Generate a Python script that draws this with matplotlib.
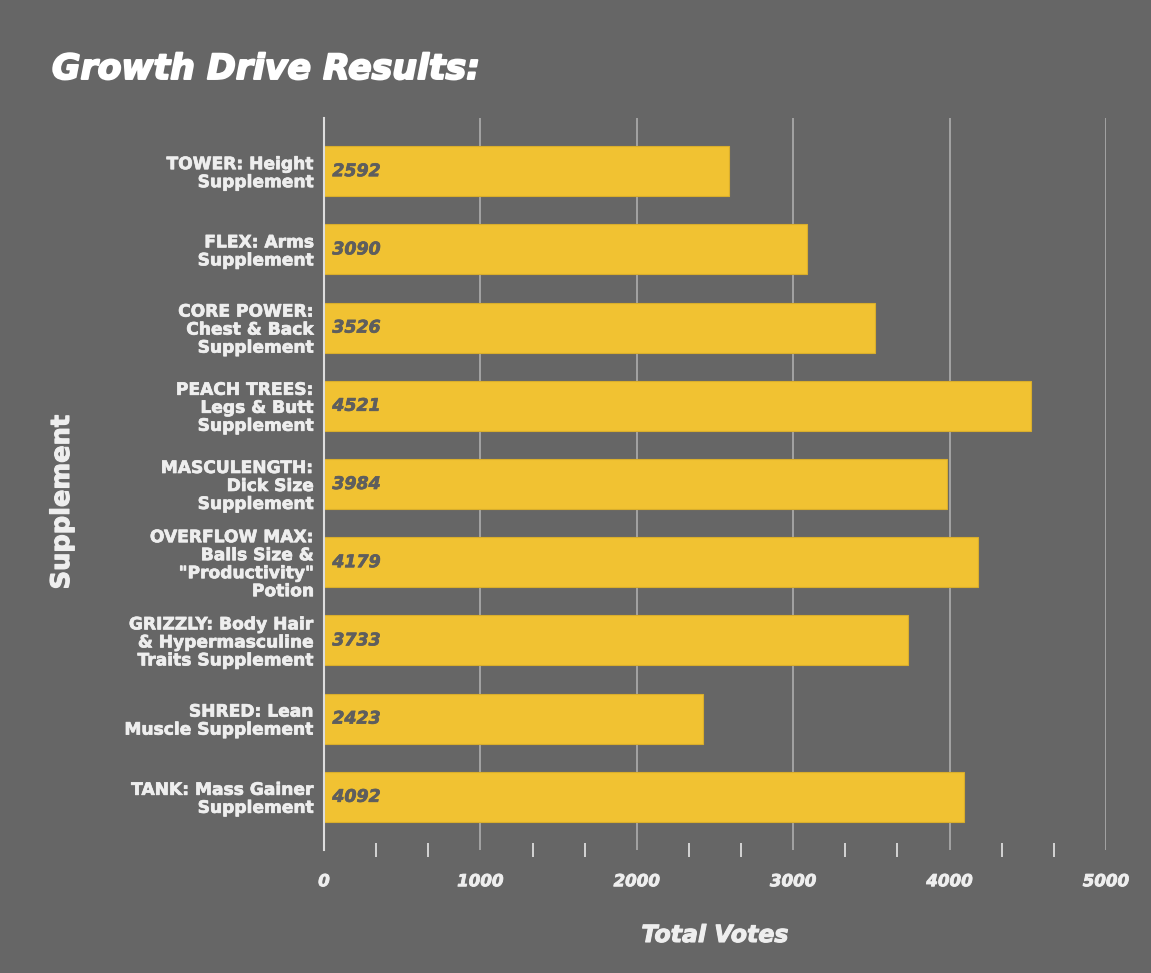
import matplotlib
matplotlib.use("Agg")
import matplotlib.pyplot as plt
import matplotlib.patheffects as pe
import numpy as np
from matplotlib.ticker import FixedLocator

categories = [
    "TOWER: Height\nSupplement",
    "FLEX: Arms\nSupplement",
    "CORE POWER:\nChest & Back\nSupplement",
    "PEACH TREES:\nLegs & Butt\nSupplement",
    "MASCULENGTH:\nDick Size\nSupplement",
    "OVERFLOW MAX:\nBalls Size &\n\"Productivity\"\nPotion",
    "GRIZZLY: Body Hair\n& Hypermasculine\nTraits Supplement",
    "SHRED: Lean\nMuscle Supplement",
    "TANK: Mass Gainer\nSupplement",
]
votes = [2592, 3090, 3526, 4521, 3984, 4179, 3733, 2423, 4092]
major_ticks = [0, 1000, 2000, 3000, 4000, 5000]
tick_labels = ["0", "1000", "2000", "3000", "4000", "5000"]

BG = "#666666"
BAR = "#F1C232"
TXT = "#EEEEEE"
VAL = "#5E5E5E"
GRID = "#A8A8A8"

plt.rcParams['font.family'] = ['DejaVu Sans']


def heavy(color, lw=0.9):
    return [pe.withStroke(linewidth=lw, foreground=color)]


W, H = 1151, 973
fig = plt.figure(figsize=(W / 100, H / 100), dpi=100, facecolor=BG)
ax = fig.add_axes([324 / W, 1 - 850 / H, (1106 - 324) / W, (850 - 118) / H])
ax.set_facecolor(BG)

y = np.arange(len(categories))
bars = ax.barh(y, votes, height=0.64, color=BAR, edgecolor="#D9AE2C",
               linewidth=0.8, zorder=3)

for yi, v in zip(y, votes):
    ax.annotate(str(v), xy=(0, yi), xytext=(6, 0), textcoords="offset points",
                ha="left", va="center", fontsize=12.5, fontweight="bold",
                fontstyle="italic", color=VAL, zorder=4,
                path_effects=heavy(VAL, 0.5))

ax.set_xlim(0, 5000)
ax.set_ylim(len(categories) - 1 + 0.68, -0.68)

ax.set_yticks(y)
ax.set_yticklabels(categories, fontsize=12.3, fontweight="bold", color=TXT,
                   linespacing=1.0, ha="right")
for t in ax.get_yticklabels():
    t.set_path_effects(heavy(TXT, 0.5))
ax.tick_params(axis="y", length=0, pad=7)

ax.xaxis.set_major_locator(FixedLocator(major_ticks))
ax.set_xticklabels(tick_labels, fontsize=12, fontweight="bold",
                   fontstyle="italic", color=TXT)
for t in ax.get_xticklabels():
    t.set_path_effects(heavy(TXT, 0.6))
ax.tick_params(axis="x", which="major", length=0, pad=16)
minor = [m for m in np.arange(0, 5001, 1000 / 3) if abs(m / 1000 - round(m / 1000)) > 1e-6]
ax.xaxis.set_minor_locator(FixedLocator(minor))
ax.tick_params(axis="x", which="minor", length=10, width=1.3, color="#DDDDDD",
               direction="inout")

ax.grid(axis="x", which="major", color=GRID, linewidth=1.3, zorder=0)
for s in ["top", "right", "bottom"]:
    ax.spines[s].set_visible(False)
ax.spines["left"].set_color("#DDDDDD")
ax.spines["left"].set_linewidth(1.5)
ax.spines["left"].set_zorder(5)

fig.text(52 / W, 1 - 79 / H, "Growth Drive Results:", fontsize=25,
         fontweight="bold", fontstyle="italic", color="white",
         ha="left", va="baseline", path_effects=heavy("white", 1.4))
fig.text(715 / W, 1 - 935 / H, "Total Votes", fontsize=17, fontweight="bold",
         fontstyle="italic", color=TXT, ha="center", va="center",
         path_effects=heavy(TXT, 0.8))
fig.text(62 / W, 1 - 502 / H, "Supplement", fontsize=18.5, fontweight="bold",
         color=TXT, rotation=90, ha="center", va="center",
         path_effects=heavy(TXT, 0.8))

fig.savefig("out.png", dpi=100, facecolor=BG)
